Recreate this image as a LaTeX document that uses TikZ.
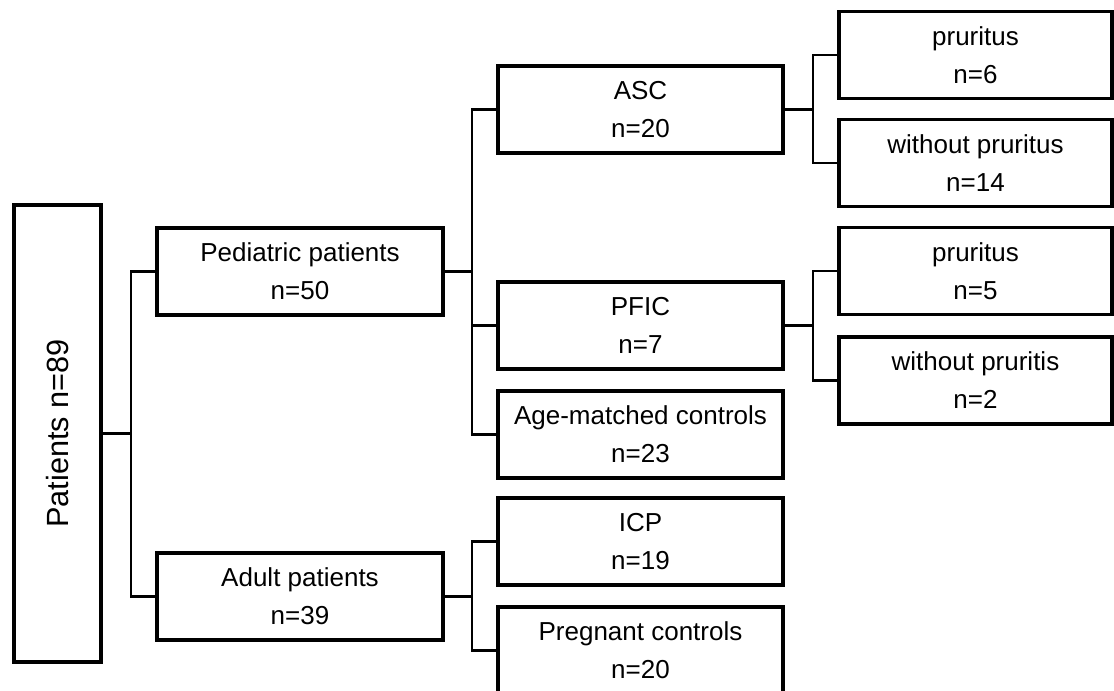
\documentclass[tikz,border=0pt]{standalone}
\usepackage{fontspec}
\setmainfont{Liberation Sans}
\begin{document}
\begin{tikzpicture}[x=0.75pt,y=-0.75pt,
  box/.style={draw=black,line width=2.5pt,fill=white,inner sep=0pt,align=center,
    font=\fontsize{19.5pt}{28.5pt}\selectfont},
  midbox/.style={box,minimum width=214.5pt,minimum height=65.25pt},
  thirdbox/.style={box,minimum width=213.75pt,minimum height=65.25pt},
  leafbox/.style={box,minimum width=204.75pt,minimum height=65.25pt},
  link/.style={draw=black,line width=1.6pt}]
\useasboundingbox (0,0) rectangle (1114,690);
\clip (0,0) rectangle (1114,690);

\node[box,minimum width=65.25pt,minimum height=342.75pt] (P) at (57.5,433.5) {};
\node[rotate=90,font=\fontsize{23pt}{28pt}\selectfont] (Pt) at (P.center) {Patients n=89};

\node[midbox] (ped) at (300,271.5) {Pediatric patients\\n=50};
\node[midbox] (adu) at (300,596.5) {Adult patients\\n=39};

\node[thirdbox] (asc) at (640.5,109.5) {ASC\\n=20};
\node[thirdbox] (pfic) at (640.5,325.5) {PFIC\\n=7};
\node[thirdbox] (age) at (640.5,434.5) {Age-matched controls\\n=23};
\node[thirdbox] (icp) at (640.5,541.5) {ICP\\n=19};
\node[thirdbox] (preg) at (640.5,650.5) {Pregnant controls\\n=20};

\node[leafbox] (pr1) at (975.5,55) {pruritus\\n=6};
\node[leafbox] (wo1) at (975.5,163) {without pruritus\\n=14};
\node[leafbox] (pr2) at (975.5,271) {pruritus\\n=5};
\node[leafbox] (wo2) at (975.5,380.5) {without pruritis\\n=2};

% connectors
\draw[link] (P.east) -- ++(28,0) coordinate (b1);
\draw[link] (ped.west) -| (b1) |- (adu.west);

\draw[link] (ped.east) -- ++(27,0) coordinate (b2);
\draw[link] (asc.west) -| (b2) |- (pfic.west);
\draw[link] (b2) |- (age.west);

\draw[link] (adu.east) -- ++(27,0) coordinate (b3);
\draw[link] (icp.west) -| (b3) |- (preg.west);

\draw[link] (asc.east) -- ++(28,0) coordinate (b4);
\draw[link] (pr1.west) -| (b4) |- (wo1.west);

\draw[link] (pfic.east) -- ++(28,0) coordinate (b5);
\draw[link] (pr2.west) -| (b5) |- (wo2.west);
\end{tikzpicture}
\end{document}
